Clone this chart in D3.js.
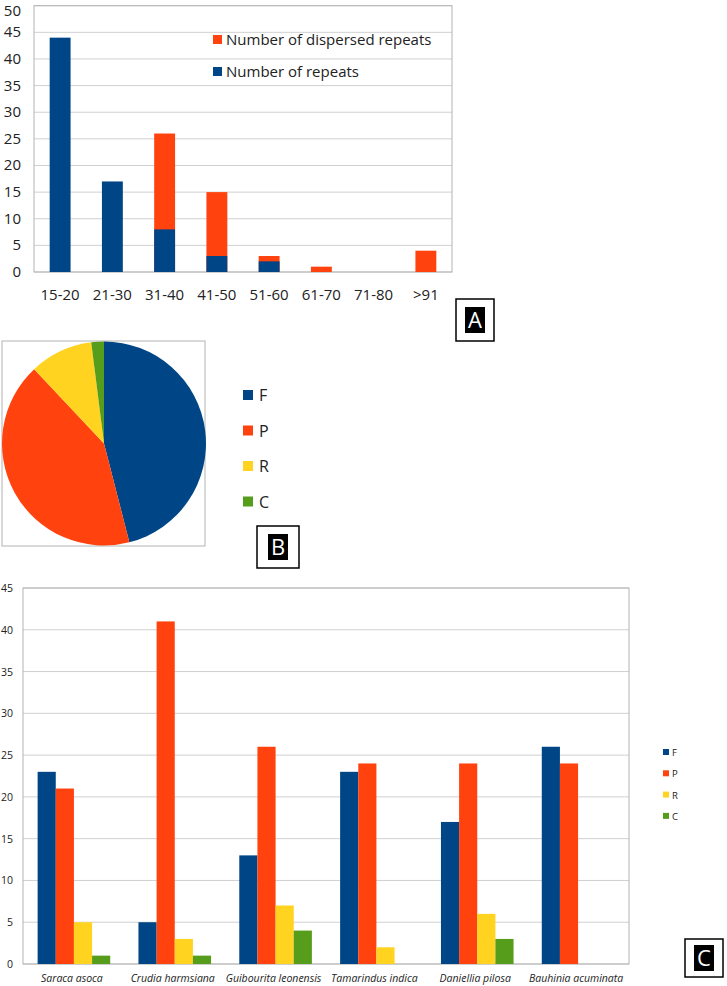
<!DOCTYPE html>
<html>
<head>
<meta charset="utf-8">
<script src="https://cdn.jsdelivr.net/npm/d3@7"></script>
<style>
  body { margin: 0; background: #fff; }
  svg { display: block; font-family: "Open Sans", "Noto Sans", sans-serif; }
</style>
</head>
<body>
<div id="chart"></div>
<script>
// panel A data
var lengthBins = ["15-20", "21-30", "31-40", "41-50", "51-60", "61-70", "71-80", ">91"];
var repeats = [44, 17, 8, 3, 2, 0, 0, 0];
var dispersed = [0, 0, 26, 15, 3, 1, 0, 4];
var ticksA = [0, 5, 10, 15, 20, 25, 30, 35, 40, 45, 50];

// panel B data (percent)
var pieTypes = ["F", "P", "R", "C"];
var pieValues = [46, 42, 10, 2];

// panel C data
var species = ["Saraca asoca", "Crudia harmsiana", "Guibourita leonensis", "Tamarindus indica", "Daniellia pilosa", "Bauhinia acuminata"];
var seriesF = [23, 5, 13, 23, 17, 26];
var seriesP = [21, 41, 26, 24, 24, 24];
var seriesR = [5, 3, 7, 2, 6, 0];
var seriesC = [1, 1, 4, 0, 3, 0];
var ticksC = [0, 5, 10, 15, 20, 25, 30, 35, 40, 45];

var colors = {F: "#004586", P: "#ff420e", R: "#ffd320", C: "#579d1c"};
var gridCol = "#d0d0d0", frameCol = "#b3b3b3", textCol = "#222";

var svg = d3.select("#chart").append("svg")
    .attr("width", 727)
    .attr("height", 986);

// ---------- panel A ----------
var gA = svg.append("g");
var xA = d3.scaleBand().domain(lengthBins).range([34, 452]).paddingInner(0.6).paddingOuter(0.3);
var yA = d3.scaleLinear().domain([0, 50]).range([272, 5.7]);

gA.selectAll(".gridA").data(ticksA).enter().append("line")
    .attr("x1", 34).attr("x2", 452)
    .attr("y1", d => yA(d)).attr("y2", d => yA(d))
    .style("stroke", gridCol);
gA.append("rect").attr("x", 34).attr("y", yA(50)).attr("width", 418).attr("height", yA(0) - yA(50))
    .style("fill", "none").style("stroke", frameCol);

// top label would be clipped, keep it inside the page
gA.selectAll(".yl").data(ticksA).enter().append("text")
    .attr("x", 21).attr("y", d => Math.max(yA(d) + 5, 16))
    .attr("text-anchor", "end")
    .style("font-size", "15px").style("fill", textCol)
    .text(d => d);

gA.selectAll(".xl").data(lengthBins).enter().append("text")
    .attr("x", d => xA(d) + xA.bandwidth() / 2).attr("y", 300)
    .attr("text-anchor", "middle")
    .style("font-size", "15px").style("fill", textCol)
    .text(d => d);

// dispersed behind, repeats in front
gA.selectAll(".dis").data(dispersed).enter().append("rect")
    .attr("x", (d, i) => xA(lengthBins[i])).attr("width", xA.bandwidth())
    .attr("y", d => yA(d)).attr("height", d => yA(0) - yA(d))
    .style("fill", colors.P);
gA.selectAll(".rep").data(repeats).enter().append("rect")
    .attr("x", (d, i) => xA(lengthBins[i])).attr("width", xA.bandwidth())
    .attr("y", d => yA(d)).attr("height", d => yA(0) - yA(d))
    .style("fill", colors.F);

var legA = [["Number of dispersed repeats", colors.P], ["Number of repeats", colors.F]];
legA.forEach(function (l, i) {
    gA.append("rect").attr("x", 213).attr("y", 35 + i * 32).attr("width", 9).attr("height", 9).style("fill", l[1]);
    gA.append("text").attr("x", 226).attr("y", 45 + i * 32)
        .style("font-size", "15px").style("fill", textCol).text(l[0]);
});

// ---------- panel B ----------
var gB = svg.append("g");
gB.append("rect").attr("x", 2).attr("y", 341).attr("width", 203).attr("height", 205)
    .style("fill", "none").style("stroke", frameCol);
var pie = d3.pie().sort(null)(pieValues);
var arc = d3.arc().innerRadius(0).outerRadius(102);
gB.append("g").attr("transform", "translate(104,443.5)")
    .selectAll("path").data(pie).enter().append("path")
    .attr("d", arc)
    .style("fill", (d, i) => colors[pieTypes[i]]);

pieTypes.forEach(function (t, i) {
    gB.append("rect").attr("x", 243).attr("y", 390 + i * 35.5).attr("width", 10).attr("height", 10).style("fill", colors[t]);
    gB.append("text").attr("x", 259).attr("y", 401 + i * 35.5)
        .style("font-size", "16px").style("fill", textCol).text(t);
});

// ---------- panel C ----------
var gC = svg.append("g");
var xC = d3.scaleBand().domain(species).range([23, 629]).paddingInner(0.28).paddingOuter(0.145);
var keys = ["F", "P", "R", "C"];
var xSub = d3.scaleBand().domain(keys).range([0, xC.bandwidth()]);
var yC = d3.scaleLinear().domain([0, 45]).range([964, 588]);

gC.selectAll(".gridC").data(ticksC).enter().append("line")
    .attr("x1", 23).attr("x2", 629)
    .attr("y1", d => yC(d)).attr("y2", d => yC(d))
    .style("stroke", gridCol);
gC.append("rect").attr("x", 23).attr("y", yC(45)).attr("width", 606).attr("height", yC(0) - yC(45))
    .style("fill", "none").style("stroke", frameCol);

gC.selectAll(".yl").data(ticksC).enter().append("text")
    .attr("x", 13).attr("y", d => yC(d) + 4)
    .attr("text-anchor", "end")
    .style("font-size", "10.5px").style("fill", textCol)
    .text(d => d);

gC.selectAll(".xl").data(species).enter().append("text")
    .attr("x", d => xC(d) + xC.bandwidth() / 2 - 2).attr("y", 982)
    .attr("text-anchor", "middle")
    .style("font-size", "10.5px").style("font-style", "italic").style("fill", textCol)
    .text(d => d);

var table = species.map(function (s, i) {
    return {name: s, F: seriesF[i], P: seriesP[i], R: seriesR[i], C: seriesC[i]};
});
gC.selectAll(".grp").data(table).enter().append("g")
    .attr("transform", d => "translate(" + xC(d.name) + ",0)")
    .selectAll("rect").data(d => keys.map(k => ({key: k, value: d[k]})))
    .enter().append("rect")
    .attr("x", d => xSub(d.key)).attr("width", xSub.bandwidth())
    .attr("y", d => yC(d.value)).attr("height", d => yC(0) - yC(d.value))
    .style("fill", d => colors[d.key]);

keys.forEach(function (k, i) {
    gC.append("rect").attr("x", 663).attr("y", 749 + i * 21.3).attr("width", 6).attr("height", 6).style("fill", colors[k]);
    gC.append("text").attr("x", 672).attr("y", 756 + i * 21.3)
        .style("font-size", "9.5px").style("fill", textCol).text(k);
});

// ---------- panel letters ----------
var boxes = [
    {t: "A", x: 456, y: 299, w: 38, h: 42},
    {t: "B", x: 257, y: 526, w: 42, h: 42},
    {t: "C", x: 685, y: 939, w: 38, h: 38}
];
boxes.forEach(function (b) {
    svg.append("rect").attr("x", b.x).attr("y", b.y).attr("width", b.w).attr("height", b.h)
        .style("fill", "#fff").style("stroke", "#000").style("stroke-width", 1.5);
    svg.append("rect").attr("x", b.x + b.w / 2 - 10).attr("y", b.y + b.h / 2 - 13).attr("width", 20).attr("height", 26)
        .style("fill", "#000");
    svg.append("text").attr("x", b.x + b.w / 2).attr("y", b.y + b.h / 2 + 8)
        .attr("text-anchor", "middle")
        .style("font-size", "22px").style("fill", "#fff").text(b.t);
});
</script>
</body>
</html>
